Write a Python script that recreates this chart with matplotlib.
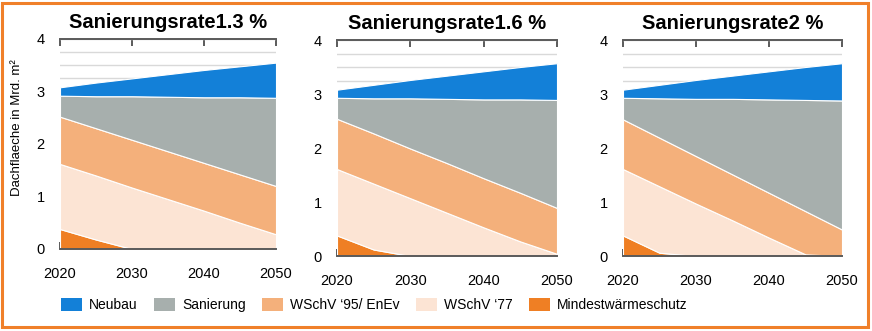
import matplotlib
matplotlib.use('Agg')
import matplotlib.pyplot as plt
from matplotlib.patches import Rectangle, Patch
import numpy as np

plt.rcParams['font.family'] = ['Liberation Sans', 'DejaVu Sans']

years = [2020, 2025, 2030, 2035, 2040, 2045, 2050]
rates = ['1.3', '1.6', '2']
labels = ['Mindestwärmeschutz', 'WSchV ‘77', 'WSchV ‘95/ EnEv', 'Sanierung', 'Neubau']

# layer thickness per scenario, Mrd. m², stacked bottom to top
mindest = [
    [0.38, 0.18, 0.00, 0.00, 0.00, 0.00, 0.00],
    [0.38, 0.12, 0.00, 0.00, 0.00, 0.00, 0.00],
    [0.38, 0.06, 0.00, 0.00, 0.00, 0.00, 0.00],
]
wschv77 = [
    [1.24, 1.22, 1.17, 0.95, 0.73, 0.50, 0.28],
    [1.23, 1.22, 1.07, 0.80, 0.53, 0.27, 0.04],
    [1.23, 1.23, 0.97, 0.66, 0.34, 0.03, 0.00],
]
wschv95 = [
    [0.90, 0.90, 0.91, 0.91, 0.91, 0.92, 0.92],
    [0.93, 0.93, 0.92, 0.92, 0.91, 0.90, 0.85],
    [0.92, 0.90, 0.88, 0.85, 0.83, 0.80, 0.49],
]
sanierung = [
    [0.40, 0.61, 0.83, 1.04, 1.25, 1.47, 1.68],
    [0.39, 0.65, 0.93, 1.19, 1.46, 1.73, 2.00],
    [0.40, 0.73, 1.06, 1.40, 1.73, 2.06, 2.39],
]
neubau = [
    [0.16, 0.26, 0.34, 0.43, 0.52, 0.59, 0.67],
    [0.15, 0.25, 0.34, 0.43, 0.52, 0.60, 0.68],
    [0.15, 0.25, 0.35, 0.43, 0.52, 0.61, 0.69],
]

colors = ['#EF7F24', '#FCE4D4', '#F4B07B', '#A7AFAD', '#1380D8']
spine_col = '#5a5a5a'

W, H = 872, 331
fig = plt.figure(figsize=(W / 100, H / 100), dpi=100)

# axes boxes in pixels: left, right, top, bottom
boxes = [(60, 276, 39, 249), (337, 557, 40, 256), (623, 842, 40, 256)]

for i, (l, r, t, b) in enumerate(boxes):
    ax = fig.add_axes([l / W, 1 - b / H, (r - l) / W, (b - t) / H])
    ax.stackplot(years, mindest[i], wschv77[i], wschv95[i], sanierung[i], neubau[i],
                 colors=colors, labels=labels, edgecolor='white', linewidth=0.8, zorder=2)
    ax.set_xlim(2020, 2050)
    ax.set_ylim(0, 4)
    ax.set_xticks([2020, 2030, 2040, 2050])
    ax.set_yticks([0, 1, 2, 3, 4])
    ax.set_yticks(np.arange(0, 4, 0.25), minor=True)
    ax.grid(axis='y', which='both', color='#d9d9d9', linewidth=1.0, zorder=0)
    ax.set_axisbelow(True)
    for side in ['left', 'right']:
        ax.spines[side].set_visible(False)
    for side in ['top', 'bottom']:
        ax.spines[side].set_color(spine_col)
        ax.spines[side].set_linewidth(1.4)
        ax.spines[side].set_zorder(3)
    ax.tick_params(axis='x', direction='in', length=5, width=1.4, color=spine_col,
                   top=True, labelsize=10.5, pad=13)
    ax.tick_params(axis='y', which='both', length=0, labelsize=10.5, pad=11)
    ax.set_title('Sanierungsrate' + rates[i] + ' %', fontsize=14.5, fontweight='bold', pad=8)

fig.text(17 / W, 1 - 128 / H, 'Dachflaeche in Mrd. m²', rotation=90,
         ha='center', va='center', fontsize=9.5)

handles = [Patch(facecolor=c) for c in colors][::-1]
fig.legend(handles, labels[::-1], loc='center left', bbox_to_anchor=(61 / W, 1 - 305 / H),
           ncol=5, frameon=False, fontsize=10, borderpad=0, borderaxespad=0,
           handlelength=1.5, handleheight=1.15, handletextpad=0.5, columnspacing=1.2)

# orange frame around the figure
fig.patches.append(Rectangle((1.5 / W, 4.5 / H), (W - 6) / W, (H - 7) / H,
                             transform=fig.transFigure, fill=False,
                             edgecolor='#F0802A', linewidth=2.2))

fig.savefig('out.png', dpi=100)
